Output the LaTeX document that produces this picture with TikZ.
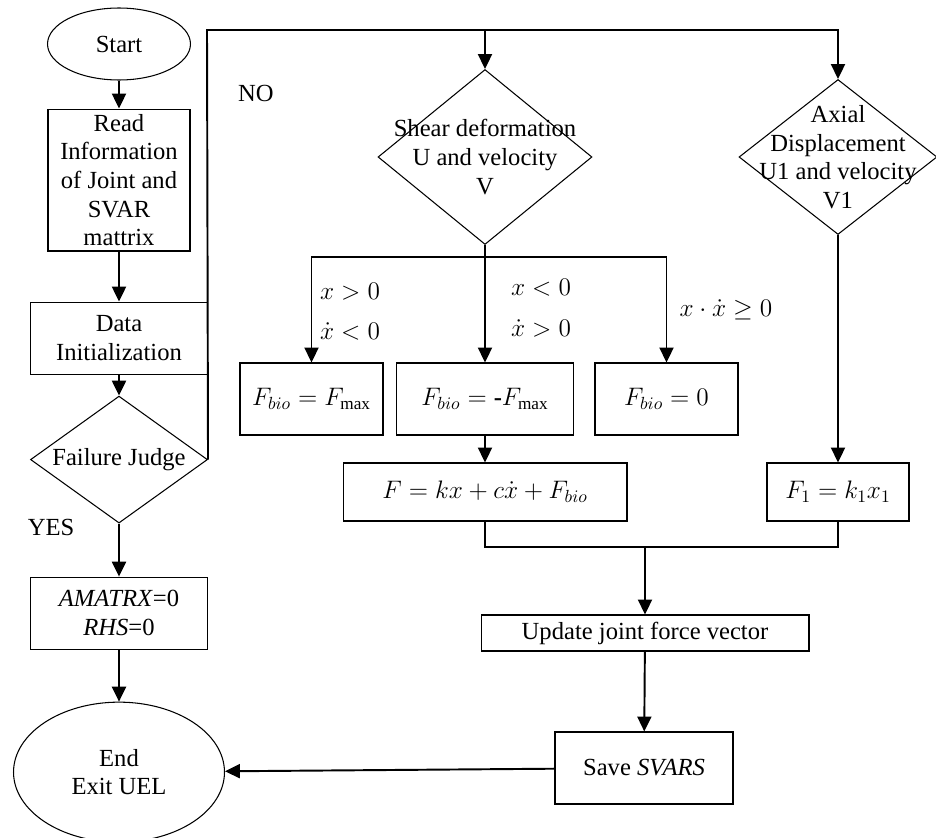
\documentclass[tikz,border=0pt]{standalone}
\usepackage{fontspec}
\setmainfont{Liberation Serif}
\usepackage{tikz}
\usetikzlibrary{positioning,arrows}
\usetikzlibrary{shapes}
\usetikzlibrary{arrows.meta}
\RequirePackage{amsmath}

\begin{document}
\begin{tikzpicture}[x=0.02cm, y=-0.02cm, font=\fontsize{14}{16.3}\selectfont]
  \tikzstyle{box}=[draw, rectangle, align=center, line width=0.6pt, inner sep=0pt]
  \tikzstyle{decision}=[draw, diamond, line width=0.6pt, inner sep=0pt]
  \tikzstyle{terminal}=[draw, ellipse, align=center, line width=0.6pt, inner sep=0pt]
  \tikzstyle{flow}=[-{Triangle[length=8.5pt,width=8pt]}, line width=1.1pt]
  \tikzstyle{plain}=[line width=1.1pt]
  \tikzstyle{tag}=[inner sep=0pt, align=center]
  \useasboundingbox (0,0) rectangle (936,838);
  % \draw [step=50, blue!20, thin] (0,0) grid (936,838);

  % left column
  \node [terminal, minimum width=2.86cm, minimum height=1.44cm] (n1) at (119,44) {Start};
  \node [box, minimum width=2.84cm, minimum height=2.84cm, below = 0.56cm of n1] (n2)
    {Read\\Information\\of Joint and\\SVAR\\mattrix};
  \node [box, minimum width=3.54cm, minimum height=1.44cm, below = 1.0cm of n2] (n3)
    {Data\\Initialization};
  \node [decision, minimum width=3.54cm, minimum height=2.54cm, below = 0.42cm of n3,
    label=center:{Failure Judge}] (n4) {};
  \node [box, minimum width=3.54cm, minimum height=1.44cm, below = 1.06cm of n4] (n5)
    {\textit{AMATRX}=0\\\textit{RHS}=0};
  \node [terminal, minimum width=4.22cm, minimum height=2.8cm, below = 1.04cm of n5] (n6)
    {End\\Exit UEL};

  % right part
  \node [decision, minimum width=4.28cm, minimum height=3.5cm,
    label={[align=center]center:Shear deformation\\U and velocity\\V}] (n7) at (485,157) {};
  \node [decision, minimum width=3.96cm, minimum height=3.1cm,
    label={[align=center]center:Axial\\Displacement\\U1 and velocity\\V1}] (n8) at (838,157) {};
  \node [box, minimum width=2.86cm, minimum height=1.44cm] (n9) at (311.5,399) {$F_{bio} = F_{\max}$};
  \node [box, minimum width=3.54cm, minimum height=1.44cm] (n10) at (485,399) {$F_{bio} = \textbf{-}F_{\max}$};
  \node [box, minimum width=2.86cm, minimum height=1.44cm] (n11) at (666.5,399) {$F_{bio} = 0$};
  \node [box, minimum width=5.68cm, minimum height=1.16cm] (n12) at (485,492) {$F = kx + c\dot{x} + F_{bio}$};
  \node [box, minimum width=2.84cm, minimum height=1.16cm] (n13) at (838,492) {$F_1 = k_1x_1$};
  \node [box, minimum width=6.56cm, minimum height=0.72cm] (n14) at (645,633) {Update joint force vector};
  \node [box, minimum width=3.56cm, minimum height=1.44cm] (n15) at (644,768) {Save \textit{SVARS}};

  % labels
  \node [tag] (t1) at (256,93) {NO};
  \node [tag] (t2) at (51,527) {YES};
  \node [tag] (t3) at (350,292) {$x>0$};
  \node [tag] (t4) at (350,331) {$\dot{x}<0$};
  \node [tag] (t5) at (541,288) {$x<0$};
  \node [tag] (t6) at (541,328) {$\dot{x}>0$};
  \node [tag] (t7) at (726,310) {$x\cdot\dot{x}\geq 0$};

  \coordinate (c1) at (207,30);
  \coordinate (c2) at (485,257);
  \coordinate (c3) at (645,547);

  \draw [flow] (n1) -- (n2);
  \draw [flow] (n2) -- (n3);
  \draw [flow] (n3) -- (n4);
  \draw [flow] (n4) -- (n5);
  \draw [flow] (n5) -- (n6);
  \draw [flow] (n4.east) -- (c1) -| (n8.north);
  \draw [flow] (c1 -| n7.north) -- (n7.north);
  \draw [plain] (n7.south) -- (c2);
  \draw [flow] (c2) -| (n9.north);
  \draw [flow] (c2) -- (n10.north);
  \draw [flow] (c2) -| (n11.north);
  \draw [flow] (n10) -- (n12);
  \draw [flow] (n8) -- (n13);
  \draw [plain] (n12.south) |- (c3) -| (n13.south);
  \draw [flow] (c3) -- (n14.north);
  \draw [flow] (n14) -- (n15);
  \draw [flow] (n15) -- (n6);
\end{tikzpicture}
\end{document}
